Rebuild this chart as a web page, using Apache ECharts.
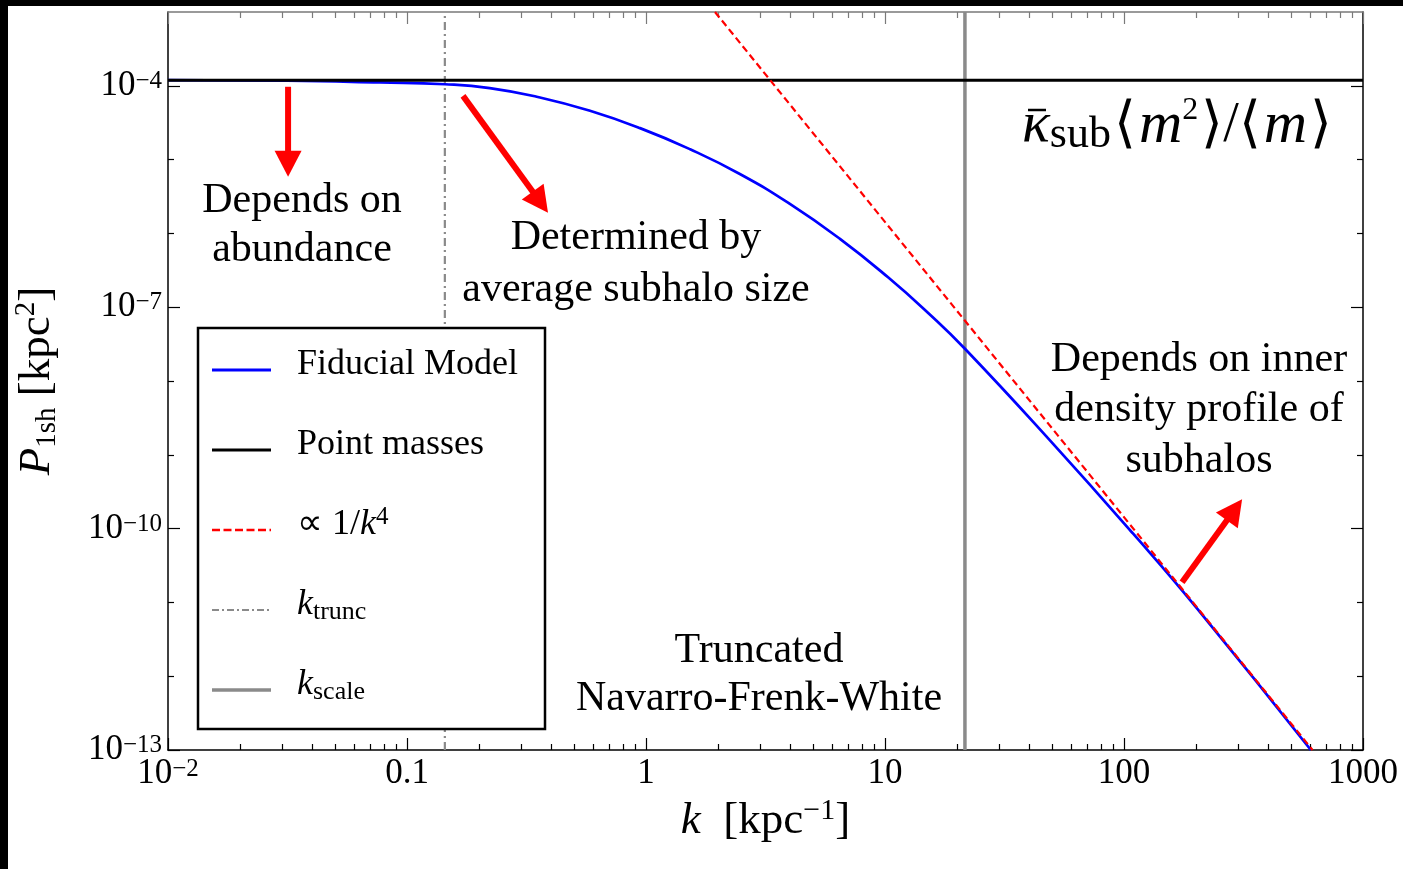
<!DOCTYPE html>
<html>
<head>
<meta charset="utf-8">
<script src="https://cdn.jsdelivr.net/npm/echarts@6/dist/echarts.min.js"></script>
<style>
html,body{margin:0;padding:0;background:#fff;}
#c{width:1403px;height:869px;}
</style>
</head>
<body>
<div id="c"></div>
<script>
// ---------------- data ----------------
const fiducialK = [0.01, 0.0315, 0.077, 0.144, 0.222, 0.36, 0.583, 0.944, 1.53, 2.47, 4.0, 6.48, 10.3, 15.4, 21.6, 49.0, 109, 202, 605];
const fiducialP = [1.19e-4, 1.17e-4, 1.11e-4, 1.05e-4, 9.3e-5, 6.95e-5, 4.58e-5, 2.67e-5, 1.38e-5, 6.38e-6, 2.51e-6, 8.43e-7, 2.54e-7, 7.98e-8, 2.74e-8, 1.57e-9, 8.59e-11, 8.3e-12, 1.0e-13];
const pointMassK = [0.01, 1000];
const pointMassP = [1.19e-4, 1.19e-4];
const powerLawK = [1.944, 615];
const powerLawP = [1e-3, 1e-13];
const kTrunc = 0.144;
const kScale = 21.6;
const xRange = [0.01, 1000];
const yRange = [1e-13, 1e-3];
const xMajorTicks = [0.01, 0.1, 1, 10, 100, 1000];
const xTickLabels = ['10^-2', '0.1', '1', '10', '100', '1000'];
const xMinorMantissas = [2, 3, 4, 5, 6, 7, 8, 9];
const yMajorTicks = [1e-13, 1e-10, 1e-7, 1e-4];
const yTickLabels = ['10^-13', '10^-10', '10^-7', '10^-4'];
const yMinorTicks = [1e-12, 1e-11, 1e-9, 1e-8, 1e-6, 1e-5];
// arrows: start point and tip point (k, P)
const arrowStartK = [0.0318, 0.1715, 175];
const arrowStartP = [9.7e-5, 7.3e-5, 1.88e-11];
const arrowTipK = [0.0318, 0.389, 312];
const arrowTipP = [5.87e-6, 1.91e-6, 2.5e-10];

// ---------------- build ----------------
const L = Math.log10;
const ff = "'Liberation Serif','Times New Roman',serif";
const xMajorLog = xMajorTicks.map(L);
const xMinorLog = [];
xMajorTicks.slice(0, -1).forEach(d => xMinorMantissas.forEach(m => xMinorLog.push(L(m * d))));
const yMajorLog = yMajorTicks.map(L);
const yMinorLog = yMinorTicks.map(L);

function powText(s) {
  const p = s.split('^');
  return p.length > 1 ? '{m|' + p[0] + '}{s|' + p[1].replace('-', '\u2212') + '}' : '{m|' + s + '}';
}
function labelFor(v, ticks, labels) {
  for (let i = 0; i < ticks.length; i++) if (Math.abs(ticks[i] - v) < 1e-6) return powText(labels[i]);
  return '';
}
const tickRich = {
  m: {fontSize: 35, lineHeight: 34, fontFamily: ff, color: '#000', verticalAlign: 'middle'},
  s: {fontSize: 25, lineHeight: 22, fontFamily: ff, color: '#000', verticalAlign: 'top'}
};

function mkX(pos, ticks, len, color, line, label) {
  const a = {
    type: 'value', gridIndex: 0, position: pos, min: L(xRange[0]), max: L(xRange[1]),
    axisLine: {show: line, onZero: false, lineStyle: {color: color, width: 1.5}},
    axisTick: {show: true, inside: true, length: len, customValues: ticks, lineStyle: {color: color, width: 1.2}},
    axisLabel: {show: false},
    splitLine: {show: false}
  };
  if (label) {
    a.axisLabel = {show: true, customValues: xMajorLog, margin: 7,
      formatter: v => labelFor(v, xMajorLog, xTickLabels), rich: tickRich};
    a.name = '{ki|k}{t|  [kpc}{sp|\u22121}{t|]}';
    a.nameLocation = 'middle';
    a.nameGap = 43;
    a.nameTextStyle = {rich: {
      ki: {fontSize: 45, fontStyle: 'italic', fontFamily: ff, color: '#000', lineHeight: 50, verticalAlign: 'middle'},
      t: {fontSize: 45, fontFamily: ff, color: '#000', lineHeight: 50, verticalAlign: 'middle'},
      sp: {fontSize: 30, fontFamily: ff, color: '#000', lineHeight: 20, verticalAlign: 'top'}
    }};
  }
  return a;
}
function mkY(pos, ticks, len, color, line, label) {
  const a = {
    type: 'value', gridIndex: 0, position: pos, min: L(yRange[0]), max: L(yRange[1]),
    axisLine: {show: line, onZero: false, lineStyle: {color: color, width: 1.5}},
    axisTick: {show: true, inside: true, length: len, customValues: ticks, lineStyle: {color: color, width: 1.2}},
    axisLabel: {show: false},
    splitLine: {show: false}
  };
  if (label) {
    a.axisLabel = {show: true, customValues: yMajorLog, margin: 6,
      formatter: v => labelFor(v, yMajorLog, yTickLabels), rich: tickRich};
    a.name = '{pi|P}{sb|1sh}{t| [kpc}{sp|2}{t|]}';
    a.nameLocation = 'middle';
    a.nameRotate = 90;
    a.nameGap = 106;
    a.nameTextStyle = {rich: {
      pi: {fontSize: 45, fontStyle: 'italic', fontFamily: ff, color: '#000', lineHeight: 50, verticalAlign: 'middle'},
      t: {fontSize: 45, fontFamily: ff, color: '#000', lineHeight: 50, verticalAlign: 'middle'},
      sb: {fontSize: 29, fontFamily: ff, color: '#000', lineHeight: 19, verticalAlign: 'bottom'},
      sp: {fontSize: 29, fontFamily: ff, color: '#000', lineHeight: 17, verticalAlign: 'top'}
    }};
  }
  return a;
}

const pair = (ks, ps) => ks.map((k, i) => [L(k), L(ps[i])]);
const arrows = arrowStartK.map((k, i) => [L(k), L(arrowStartP[i]), L(arrowTipK[i]), L(arrowTipP[i])]);

const RED = '#ff0000', BLUE = '#0000ff', GRAY = '#8a8a8a';

const lineSeries = (name, data, color, width, type, z, extra) => Object.assign({
  name: name, type: 'line', xAxisIndex: 0, yAxisIndex: 0, data: data, symbol: 'none',
  lineStyle: {color: color, width: width, type: type}, itemStyle: {color: color},
  z: z, silent: true, animation: false, clip: true
}, extra || {});

// legend drawn as graphic (box + samples + texts)
const legX0 = 212, legX1 = 271, legTextX = 297;
const legRows = [370, 450, 530, 610, 690];
const legFont = 36;
const legRich = {
  t: {fontSize: legFont, fontFamily: ff, color: '#000', lineHeight: 40, verticalAlign: 'middle'},
  i: {fontSize: legFont, fontStyle: 'italic', fontFamily: ff, color: '#000', lineHeight: 40, verticalAlign: 'middle'},
  sp: {fontSize: 25, fontFamily: ff, color: '#000', lineHeight: 29, verticalAlign: 'top'},
  sb: {fontSize: 26, fontFamily: ff, color: '#000', lineHeight: 19, verticalAlign: 'bottom'}
};
const legItems = [
  {text: '{t|Fiducial Model}', stroke: BLUE, w: 3, dash: null},
  {text: '{t|Point masses}', stroke: '#000', w: 3, dash: null},
  {text: '{t|\u221d 1/}{i|k}{sp|4}', stroke: RED, w: 2.5, dash: [8, 3.5]},
  {text: '{i|k}{sb|trunc}', stroke: GRAY, w: 2.2, dash: [7, 3, 2, 3]},
  {text: '{i|k}{sb|scale}', stroke: GRAY, w: 3.5, dash: null}
];
const graphics = [
  {type: 'rect', z: 100, shape: {x: 0, y: 0, width: 1403, height: 6}, style: {fill: '#000'}},
  {type: 'rect', z: 100, shape: {x: 0, y: 0, width: 8, height: 869}, style: {fill: '#000'}},
  {type: 'rect', z: 100, shape: {x: 198, y: 328, width: 347, height: 401}, style: {fill: '#fff', stroke: '#000', lineWidth: 2.5}}
];
legItems.forEach((it, i) => {
  graphics.push({type: 'line', z: 101, shape: {x1: legX0, y1: legRows[i], x2: legX1, y2: legRows[i]},
    style: {stroke: it.stroke, lineWidth: it.w, lineDash: it.dash}});
  graphics.push({type: 'text', z: 101, x: legTextX, y: legRows[i] - 5,
    style: {text: it.text, rich: legRich, align: 'left', verticalAlign: 'middle'}});
});
// annotations
const noteStyle = (text, lh) => ({text: text, fontSize: 42, fontFamily: ff, fill: '#000', lineHeight: lh, align: 'center', verticalAlign: 'middle'});
graphics.push({type: 'text', z: 101, x: 302, y: 225, style: noteStyle('Depends on\nabundance', 49)});
graphics.push({type: 'text', z: 101, x: 636, y: 264, style: noteStyle('Determined by\naverage subhalo size', 52)});
graphics.push({type: 'text', z: 101, x: 1199, y: 410, style: noteStyle('Depends on inner\ndensity profile of\nsubhalos', 50.5)});
graphics.push({type: 'text', z: 101, x: 759, y: 675, style: noteStyle('Truncated\nNavarro-Frenk-White', 48)});
// kappa-bar formula, left aligned at the kappa
const kapX = 1022, kapY = 126;
graphics.push({type: 'text', z: 101, x: kapX, y: kapY, style: {
  text: '{k|\u03ba}{sb|sub}{n|\u27e8}{m|m}{sp|2}{n|\u27e9/\u27e8}{m|m}{n|\u27e9}',
  align: 'left', verticalAlign: 'middle',
  rich: {
    k: {fontSize: 58, fontStyle: 'italic', fontFamily: ff, color: '#000', lineHeight: 62, verticalAlign: 'middle'},
    m: {fontSize: 60, fontStyle: 'italic', fontFamily: ff, color: '#000', lineHeight: 62, verticalAlign: 'middle'},
    n: {fontSize: 56, fontFamily: ff, color: '#000', lineHeight: 62, verticalAlign: 'middle', padding: [0, 3, 0, 3]},
    sb: {fontSize: 44, fontFamily: ff, color: '#000', lineHeight: 40, verticalAlign: 'bottom'},
    sp: {fontSize: 32, fontFamily: ff, color: '#000', lineHeight: 26, verticalAlign: 'top'}
  }
}});
graphics.push({type: 'line', z: 101, shape: {x1: kapX + 6, y1: 110, x2: kapX + 24, y2: 110}, style: {stroke: '#000', lineWidth: 2.5}});

const option = {
  backgroundColor: '#ffffff',
  animation: false,
  grid: {left: 168, top: 12, right: 40, bottom: 119, containLabel: false, outerBoundsMode: 'none'},
  xAxis: [
    mkX('bottom', xMajorLog, 12, '#000', true, true),
    mkX('bottom', xMinorLog, 6, '#000', false, false),
    mkX('top', xMajorLog, 12, '#7a7a7a', true, false),
    mkX('top', xMinorLog, 6, '#7a7a7a', false, false)
  ],
  yAxis: [
    mkY('left', yMajorLog, 12, '#000', true, true),
    mkY('left', yMinorLog, 6, '#000', false, false),
    mkY('right', yMajorLog, 12, '#000', true, false),
    mkY('right', yMinorLog, 6, '#000', false, false)
  ],
  series: [
    lineSeries('k_trunc', [[L(kTrunc), L(yRange[0])], [L(kTrunc), L(yRange[1])]], GRAY, 2.2, [8, 4, 2, 4], 1),
    lineSeries('k_scale', [[L(kScale), L(yRange[0])], [L(kScale), L(yRange[1])]], GRAY, 3.5, 'solid', 1),
    lineSeries('Fiducial Model', pair(fiducialK, fiducialP), BLUE, 2.7, 'solid', 2, {smooth: 0.5}),
    lineSeries('Point masses', pair(pointMassK, pointMassP), '#000', 3, 'solid', 3),
    lineSeries('\u221d 1/k^4', pair(powerLawK, powerLawP), RED, 2.2, [7, 4], 4),
    {
      name: 'arrows', type: 'custom', xAxisIndex: 0, yAxisIndex: 0, z: 5, silent: true, animation: false,
      data: arrows,
      renderItem: function (params, api) {
        const p0 = api.coord([api.value(0), api.value(1)]);
        const p1 = api.coord([api.value(2), api.value(3)]);
        const dx = p1[0] - p0[0], dy = p1[1] - p0[1];
        const len = Math.sqrt(dx * dx + dy * dy);
        const ux = dx / len, uy = dy / len;
        const headL = 26, headW = 13.5;
        const bx = p1[0] - ux * headL, by = p1[1] - uy * headL;
        return {type: 'group', children: [
          {type: 'line', shape: {x1: p0[0], y1: p0[1], x2: bx + ux * 2, y2: by + uy * 2}, style: {stroke: RED, lineWidth: 6}},
          {type: 'polygon', shape: {points: [[p1[0], p1[1]], [bx - uy * headW, by + ux * headW], [bx + uy * headW, by - ux * headW]]}, style: {fill: RED}}
        ]};
      }
    }
  ],
  graphic: graphics
};

const chart = echarts.init(document.getElementById('c'), null, {renderer: 'canvas'});
chart.setOption(option);
</script>
</body>
</html>
